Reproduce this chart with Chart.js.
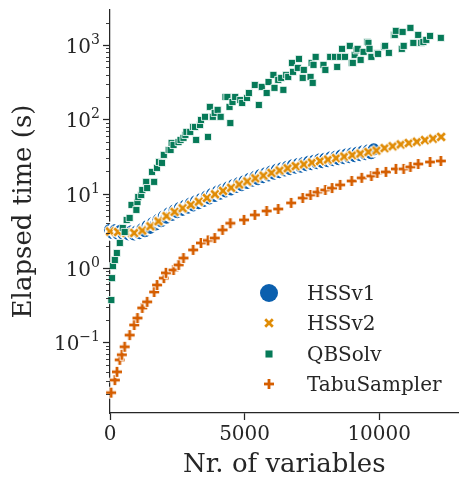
<!DOCTYPE html>
<html>
<head>
<meta charset="utf-8">
<script src="https://cdn.jsdelivr.net/npm/chart.js@4.4.1/dist/chart.umd.min.js"></script>
<style>
  html, body { margin: 0; padding: 0; background: #ffffff; }
</style>
</head>
<body>
<canvas id="chart" width="468" height="483"></canvas>
<script>
const seriesNames = ['HSSv1', 'HSSv2', 'QBSolv', 'TabuSampler'];
const xTitle = 'Nr. of variables';
const yTitle = 'Elapsed time (s)';
const xTickValues = [0, 5000, 10000];
const yTickExponents = [-1, 0, 1, 2, 3];

// HSSv1: dense run, read along the band (upper / lower edge alternate)
const hss1X = [0, 100, 200, 300, 400, 500, 600, 700, 800, 900, 1000, 1100, 1200, 1300, 1400, 1500, 1600, 1700, 1800, 1900,
  2000, 2100, 2200, 2300, 2400, 2500, 2600, 2700, 2800, 2900, 3000, 3100, 3200, 3300, 3400, 3500, 3600, 3700, 3800, 3900,
  4000, 4100, 4200, 4300, 4400, 4500, 4600, 4700, 4800, 4900, 5000, 5100, 5200, 5300, 5400, 5500, 5600, 5700, 5800, 5900,
  6000, 6100, 6200, 6300, 6400, 6500, 6600, 6700, 6800, 6900, 7000, 7100, 7200, 7300, 7400, 7500, 7600, 7700, 7800, 7900,
  8000, 8100, 8200, 8300, 8400, 8500, 8600, 8700, 8800, 8900, 9000, 9100, 9200, 9300, 9400, 9500, 9600, 9700, 9800];
const hss1Y = [3.26, 2.94, 3.22, 2.90, 3.18, 2.86, 3.13, 2.82, 3.11, 2.82, 3.11, 2.93, 3.35, 3.12, 3.69, 3.47, 4.05, 3.86, 4.46, 4.27,
  4.96, 4.74, 5.46, 5.17, 5.97, 5.64, 6.46, 6.06, 6.91, 6.49, 7.40, 6.94, 7.92, 7.43, 8.51, 8.01, 9.19, 8.65, 9.93, 9.34,
  10.7, 10.0, 11.4, 10.7, 12.2, 11.4, 13.1, 12.3, 14.0, 13.0, 14.8, 13.9, 15.9, 14.9, 16.9, 15.7, 17.9, 16.7, 18.9, 17.6,
  20.0, 18.6, 21.0, 19.5, 22.1, 20.5, 23.1, 21.4, 24.2, 22.4, 25.1, 23.1, 26.0, 24.1, 27.0, 25.0, 27.9, 25.7, 28.9, 26.6,
  29.7, 27.4, 30.7, 28.3, 31.6, 29.1, 32.7, 30.1, 33.7, 31.0, 34.8, 32.0, 35.8, 33.0, 37.0, 34.0, 38.1, 35.1, 39.3];

const hss2X = [0, 300, 600, 900, 1200, 1500, 1800, 2100, 2400, 2700, 3000, 3300, 3600, 3900, 4200, 4500, 4800, 5100, 5400, 5700,
  6000, 6300, 6600, 6900, 7200, 7500, 7800, 8100, 8400, 8700, 9000, 9300, 9600, 9900, 10200, 10500, 10800, 11100, 11400, 11700,
  12000, 12300];
const hss2Y = [3.10, 3.05, 2.98, 2.96, 3.19, 3.64, 4.25, 4.98, 5.69, 6.36, 7.05, 7.80, 8.75, 9.81, 10.9, 12.0, 13.3, 14.6, 16.1, 17.5,
  19.0, 20.5, 22.0, 23.5, 24.8, 26.2, 27.5, 28.8, 30.1, 31.6, 33.1, 34.6, 36.3, 38.0, 41.0, 43.5, 46.0, 48.0, 50.0, 52.5,
  55.0, 58.0];

const qbX = [50, 75, 110, 180, 255, 365, 475, 545, 620, 730, 800, 980, 1020, 1050, 1160, 1200, 1345, 1380, 1560, 1640,
  1745, 1820, 1930, 2000, 2180, 2250, 2290, 2360, 2545, 2620, 2730, 2800, 2840, 2980, 3090, 3160, 3200, 3345, 3380, 3530,
  3640, 3710, 3820, 3890, 4000, 4110, 4290, 4360, 4440, 4470, 4550, 4650, 4840, 4910, 5090, 5160, 5380, 5530, 5640, 5820,
  5890, 6070, 6110, 6250, 6360, 6440, 6545, 6620, 6760, 6800, 6980, 7020, 7160, 7200, 7450, 7490, 7530, 7560, 7640, 7930,
  8000, 8180, 8360, 8440, 8550, 8620, 8730, 8910, 8980, 9020, 9090, 9160, 9200, 9310, 9420, 9560, 9600, 9640, 9710, 9930,
  9960, 10180, 10220, 10360, 10545, 10580, 10620, 10840, 10870, 10910, 11160, 11270, 11450, 11560, 11640, 11750, 11890, 12290];
const qbY = [0.37, 0.73, 1.06, 1.28, 1.59, 2.17, 3.45, 3.05, 4.42, 4.71, 7.05, 6.04, 7.7, 9.0, 9.6, 11.2, 14.4, 11.9, 19.6, 14.4,
  22.2, 26.7, 25.9, 33.2, 38.7, 38.7, 48.1, 45.2, 49.4, 52.8, 56.3, 61.7, 67.7, 67.7, 79, 79, 52.8, 84, 98, 108,
  58, 147, 108, 122, 134, 108, 200, 200, 147, 89, 171, 200, 182, 166, 194, 226, 290, 156, 273, 226,
  318, 396, 265, 339, 361, 249, 396, 372, 574, 435, 492, 650, 361, 462, 372, 574, 309, 540, 692, 540,
  462, 692, 692, 507, 692, 887, 692, 973, 574, 574, 736, 850, 887, 630, 808, 1100, 1067, 887, 692, 780,
  759, 940, 973, 783, 1367, 1367, 1549, 887, 1500, 973, 1700, 1067, 1367, 1067, 1100, 1172, 1325, 1247];

const tabuX = [40, 180, 260, 360, 440, 545, 730, 900, 1020, 1200, 1380, 1640, 1750, 2000, 2080, 2360, 2550, 2730, 3090, 3380,
  3640, 3890, 4180, 4470, 4980, 5380, 5820, 6250, 6730, 7160, 7450, 7710, 8000, 8250, 8550, 8980, 9350, 9710, 9930, 10250,
  10620, 10910, 11160, 11450, 11890, 12290];
const tabuY = [0.021, 0.031, 0.040, 0.058, 0.068, 0.087, 0.125, 0.171, 0.212, 0.29, 0.35, 0.475, 0.59, 0.73, 0.86, 0.94, 1.10, 1.36, 1.75, 2.17,
  2.35, 2.53, 3.25, 4.0, 4.43, 5.17, 5.85, 6.22, 7.5, 8.75, 9.6, 10.5, 11.2, 11.9, 13.1, 14.8, 16.3, 17.3, 19.0, 19.6,
  21.5, 21.5, 22.9, 25.1, 26.7, 27.5];

const BLUE = '#0a5fae';
const ORANGE = '#e08c06';
const GREEN = '#067a58';
const VERMILION = '#d55e00';
const INK = '#262626';
const SERIF = "'DejaVu Serif', serif";

function pts(xs, ys) {
  return xs.map((x, i) => ({ x: x, y: ys[i] }));
}

// filled plus / X marker with a thin white edge, like matplotlib 'P' and 'X'
function crossImage(color, size, arm, rotated) {
  const edge = 0.9;
  const dim = Math.ceil(size) + 6;
  const c = document.createElement('canvas');
  c.width = dim;
  c.height = dim;
  const g = c.getContext('2d');
  g.translate(dim / 2, dim / 2);
  let h = size / 2;
  if (rotated) {
    g.rotate(Math.PI / 4);
    h = size / 2 * Math.SQRT2 - arm / 2;
  }
  g.fillStyle = '#ffffff';
  g.fillRect(-h - edge, -arm / 2 - edge, 2 * h + 2 * edge, arm + 2 * edge);
  g.fillRect(-arm / 2 - edge, -h - edge, arm + 2 * edge, 2 * h + 2 * edge);
  g.fillStyle = color;
  g.fillRect(-h, -arm / 2, 2 * h, arm);
  g.fillRect(-arm / 2, -h, arm, 2 * h);
  return c;
}

const xMark = crossImage(ORANGE, 9.5, 2.7, true);
const plusMark = crossImage(VERMILION, 10, 2.8, false);

const axisPlugin = {
  id: 'logAxisDecor',
  afterDraw(chart) {
    const ctx = chart.ctx;
    const y = chart.scales.y;
    const left = chart.chartArea.left;
    ctx.save();
    ctx.strokeStyle = INK;
    for (let e = -2; e <= 3; e++) {
      for (let m = 1; m <= 9; m++) {
        const v = m * Math.pow(10, e);
        if (v < y.min || v > y.max) continue;
        const py = Math.round(y.getPixelForValue(v)) + 0.5;
        const len = m === 1 ? 7 : 4;
        ctx.lineWidth = m === 1 ? 1.25 : 0.9;
        ctx.beginPath();
        ctx.moveTo(left - len, py);
        ctx.lineTo(left, py);
        ctx.stroke();
      }
    }
    ctx.fillStyle = INK;
    ctx.textBaseline = 'alphabetic';
    yTickExponents.forEach(e => {
      const py = y.getPixelForValue(Math.pow(10, e));
      const sup = e < 0 ? '\u2212' + (-e) : String(e);
      ctx.font = '14px ' + SERIF;
      const supW = ctx.measureText(sup).width;
      const right = 100;
      ctx.textAlign = 'left';
      ctx.fillText(sup, right - supW, py - 1);
      ctx.font = '20px ' + SERIF;
      ctx.textAlign = 'right';
      ctx.fillText('10', right - supW, py + 8);
    });
    ctx.restore();
  }
};

const legendMarks = [
  { pointStyle: 'circle', radius: 9, color: BLUE },
  { pointStyle: xMark, radius: 5, color: ORANGE },
  { pointStyle: 'rect', radius: 5, color: GREEN },
  { pointStyle: plusMark, radius: 5, color: VERMILION }
];

const legendPlugin = {
  id: 'insideLegend',
  afterDraw(chart) {
    const ctx = chart.ctx;
    const rowY = [293, 323, 354, 384];
    ctx.save();
    chart.data.datasets.forEach((ds, i) => {
      const mk = legendMarks[i];
      ctx.fillStyle = mk.color;
      ctx.strokeStyle = '#ffffff';
      Chart.helpers.drawPoint(ctx, { pointStyle: mk.pointStyle, radius: mk.radius, borderWidth: 0, rotation: 0 }, 269, rowY[i]);
      ctx.fillStyle = INK;
      ctx.font = '20px ' + SERIF;
      ctx.textAlign = 'left';
      ctx.textBaseline = 'alphabetic';
      ctx.fillText(ds.label, 307, rowY[i] + 7);
    });
    ctx.restore();
  }
};

new Chart(document.getElementById('chart'), {
  type: 'scatter',
  data: {
    datasets: [
      { label: seriesNames[0], data: pts(hss1X, hss1Y), pointStyle: 'circle', pointRadius: 7.2,
        backgroundColor: BLUE, borderColor: '#ffffff', borderWidth: 2.2, order: 3, clip: false },
      { label: seriesNames[1], data: pts(hss2X, hss2Y), pointStyle: xMark, pointRadius: 5,
        backgroundColor: ORANGE, borderColor: ORANGE, order: 2, clip: false },
      { label: seriesNames[2], data: pts(qbX, qbY), pointStyle: 'rect', pointRadius: 5,
        backgroundColor: GREEN, borderColor: '#ffffff', borderWidth: 0.8, order: 1, clip: false },
      { label: seriesNames[3], data: pts(tabuX, tabuY), pointStyle: plusMark, pointRadius: 5,
        backgroundColor: VERMILION, borderColor: VERMILION, order: 0, clip: false }
    ]
  },
  options: {
    responsive: false,
    animation: false,
    events: [],
    layout: { padding: { left: 0, top: 10, right: 2, bottom: 0 } },
    plugins: { legend: { display: false }, tooltip: { enabled: false } },
    scales: {
      x: {
        type: 'linear',
        min: 0,
        max: 12950,
        afterFit: s => { s.height = 70; },
        border: { display: true, color: INK, width: 1.25 },
        grid: { display: true, drawOnChartArea: false, drawTicks: true, tickLength: 7, tickColor: INK, tickWidth: 1.25 },
        afterBuildTicks: s => { s.ticks = xTickValues.map(v => ({ value: v })); },
        ticks: {
          color: INK, font: { family: SERIF, size: 20 }, padding: 3, maxRotation: 0, autoSkip: false,
          callback: v => String(v)
        },
        title: { display: true, text: xTitle, color: INK, font: { family: SERIF, size: 26 }, padding: { top: 0, bottom: 2 } }
      },
      y: {
        type: 'logarithmic',
        min: 0.01118,
        max: 2958,
        afterFit: s => { s.width = 110; },
        border: { display: true, color: INK, width: 1.25 },
        grid: { display: false },
        ticks: { display: false },
        title: { display: true, text: yTitle, color: INK, font: { family: SERIF, size: 26 }, padding: { top: 9, bottom: 0 } }
      }
    }
  },
  plugins: [axisPlugin, legendPlugin]
});
</script>
</body>
</html>
